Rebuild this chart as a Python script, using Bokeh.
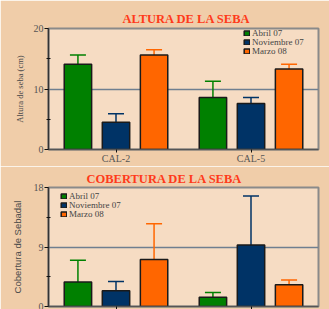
from bokeh.plotting import figure
from bokeh.layouts import column
from bokeh.models import (ColumnDataSource, FactorRange, Range1d, FixedTicker, Whisker,
                          TeeHead, Legend, LegendItem)
from bokeh.transform import dodge
from bokeh.embed import file_html
from bokeh.resources import INLINE

sites = ["CAL-2", "CAL-5"]
series = ["Abril 07", "Noviembre 07", "Marzo 08"]
colors = ["#008000", "#003366", "#ff6600"]

altura_abril = [14.1, 8.6]
altura_abril_err = [1.5, 2.7]
altura_nov = [4.5, 7.6]
altura_nov_err = [1.4, 1.0]
altura_marzo = [15.6, 13.3]
altura_marzo_err = [0.9, 0.8]

cob_abril = [3.7, 1.4]
cob_abril_err = [3.3, 0.7]
cob_nov = [2.4, 9.3]
cob_nov_err = [1.4, 7.4]
cob_marzo = [7.1, 3.3]
cob_marzo_err = [5.4, 0.7]

altura_ticks = [0, 10, 20]
altura_minor = [5, 15]
cob_ticks = [0, 9, 18]
cob_minor = [4.5, 13.5]

SERIF = "Liberation Serif"
offsets = [-0.282, 0.0, 0.282]
BAR_W = 0.203


def make_fig(vals, errs, ymax, ticks, minor, gridval, h, mbl, mbt, mbb, show_xlabels,
             title, title_offset, title_standoff, ylabel, ylabel_font, ylabel_size, ylabel_standoff):
    p = figure(x_range=FactorRange(factors=sites, range_padding=0),
               y_range=Range1d(0, ymax),
               width=329, height=h,
               min_border_left=mbl, min_border_right=11, min_border_top=mbt, min_border_bottom=mbb,
               output_backend="svg", toolbar_location=None)
    p.background_fill_color = "#f6dcc3"
    p.border_fill_color = "#f0cda9"
    p.outline_line_color = "#8a8a8a"
    p.outline_line_width = 2
    p.xgrid.visible = False
    p.ygrid.ticker = FixedTicker(ticks=[gridval])
    p.ygrid.grid_line_color = "#6f7f90"
    p.ygrid.grid_line_width = 1.5

    p.title.text = title
    p.title.align = "left"
    p.title.offset = title_offset
    p.title.standoff = title_standoff
    p.title.text_font = SERIF
    p.title.text_font_style = "bold"
    p.title.text_font_size = "12.5px"
    p.title.text_color = "#ff3a1a"

    p.yaxis.ticker = FixedTicker(ticks=ticks, minor_ticks=minor)
    p.yaxis.axis_line_color = "#333333"
    p.yaxis.axis_line_width = 1.5
    p.yaxis.major_tick_out = 4
    p.yaxis.major_tick_in = 0
    p.yaxis.minor_tick_out = 2
    p.yaxis.minor_tick_in = 2
    p.yaxis.minor_tick_line_color = "#111111"
    p.yaxis.major_tick_line_color = "#111111"
    p.yaxis.major_label_text_font = SERIF
    p.yaxis.major_label_text_font_size = "10px"
    p.yaxis.major_label_text_color = "#555555"
    p.yaxis.major_label_standoff = 1
    p.yaxis.axis_label = ylabel
    p.yaxis.axis_label_text_font = ylabel_font
    p.yaxis.axis_label_text_font_size = ylabel_size
    p.yaxis.axis_label_text_font_style = "normal"
    p.yaxis.axis_label_text_color = "#4a4a4a"
    p.yaxis.axis_label_standoff = ylabel_standoff

    p.xaxis.axis_line_color = "#555555"
    p.xaxis.axis_line_width = 1.5
    p.xaxis.major_tick_out = 3
    p.xaxis.major_tick_in = 0
    p.xaxis.major_tick_line_color = "#111111"
    p.xaxis.major_label_text_font = SERIF
    p.xaxis.major_label_text_color = "#555555"
    p.xaxis.major_label_standoff = 0
    if show_xlabels:
        p.xaxis.major_label_text_font_size = "10px"
    else:
        p.xaxis.major_label_text_font_size = "1px"
        p.xaxis.major_label_text_alpha = 0

    items = []
    for name, col, off, v, e in zip(series, colors, offsets, vals, errs):
        src = ColumnDataSource(dict(site=sites, val=v,
                                    upper=[a + b for a, b in zip(v, e)]))
        r = p.vbar(x=dodge("site", off, range=p.x_range), top="val", width=BAR_W,
                   source=src, fill_color=col, line_color="#1a1a1a", line_width=1.5)
        w = Whisker(base=dodge("site", off, range=p.x_range), lower="val", upper="upper",
                    source=src, line_color=col, line_width=1.5,
                    upper_head=TeeHead(size=16, line_color=col, line_width=1.5),
                    lower_head=None, level="underlay")
        p.add_layout(w)
        items.append(LegendItem(label=name, renderers=[r]))
    return p, items


def add_legends(p, items, x, ys):
    for it, y in zip(items, ys):
        leg = Legend(items=[it], location=(x, y))
        leg.background_fill_alpha = 0
        leg.border_line_alpha = 0
        leg.padding = 0
        leg.spacing = 0
        leg.margin = 0
        leg.label_height = 9
        leg.glyph_height = 6
        leg.glyph_width = 7
        leg.label_standoff = 2
        leg.label_text_font = SERIF
        leg.label_text_font_size = "9px"
        leg.label_text_line_height = 1.0
        leg.label_text_color = "#444444"
        leg.label_text_baseline = "middle"
        p.add_layout(leg)


# top chart (frame 47..318 x 28..151)
p1, it1 = make_fig([altura_abril, altura_nov, altura_marzo],
                   [altura_abril_err, altura_nov_err, altura_marzo_err],
                   20, altura_ticks, altura_minor, 10, 166, 47, 28, 15, True,
                   "ALTURA DE LA SEBA", 74, 5, "Altura de seba (cm)", SERIF, "8.5px", 6)
add_legends(p1, it1, 195, [111, 102, 93])

# bottom chart (frame 48..318 x 187..306)
p2, it2 = make_fig([cob_abril, cob_nov, cob_marzo],
                   [cob_abril_err, cob_nov_err, cob_marzo_err],
                   18, cob_ticks, cob_minor, 9, 143, 48, 21, 3, False,
                   "COBERTURA DE LA SEBA", 38, 4, "Cobertura de Sebadal", "Liberation Sans", "9.5px", 8)
add_legends(p2, it2, 12, [105, 96, 87])

layout = column(p1, p2, spacing=0)
open("out.html", "w").write(file_html(layout, INLINE))
